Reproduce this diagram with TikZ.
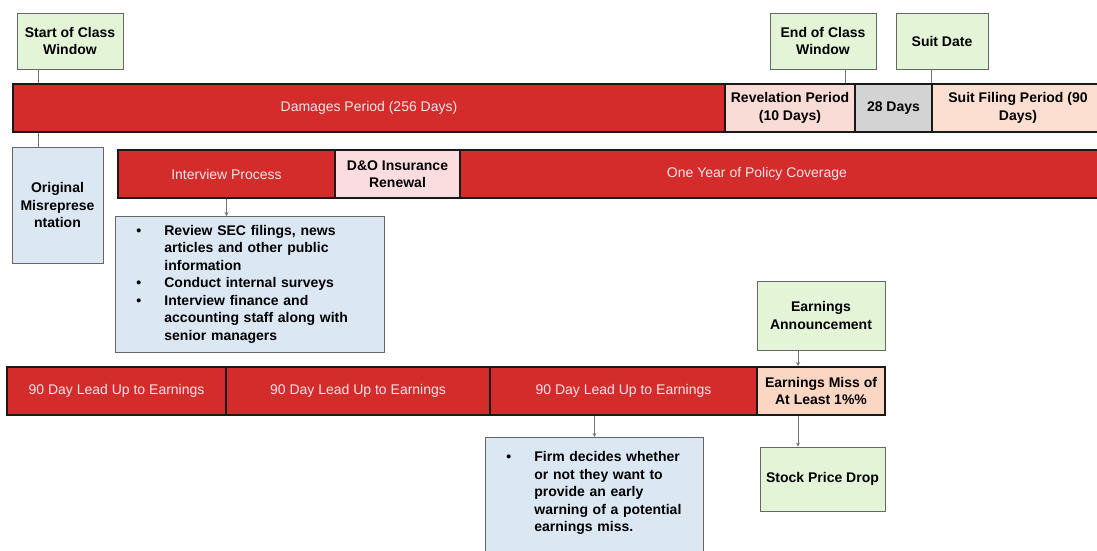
\documentclass[tikz,border=0pt]{standalone}
\usepackage{fontspec}
\setmainfont{Liberation Sans}
\usetikzlibrary{arrows.meta}
\definecolor{barred}{HTML}{D42B2B}
\definecolor{bartext}{HTML}{FFE4EA}
\definecolor{revpink}{HTML}{FADCD6}
\definecolor{dandopink}{HTML}{FBDDDF}
\definecolor{suitpeach}{HTML}{FCDFD0}
\definecolor{misspeach}{HTML}{FBD6C2}
\definecolor{daysgray}{HTML}{D3D3D3}
\definecolor{markgreen}{HTML}{E4F4D6}
\definecolor{noteblue}{HTML}{DCE7F4}
\begin{document}
\begin{tikzpicture}[x=1pt,y=-1pt]
\tikzset{
  seg/.style={draw=black!90,line width=2pt,minimum height=48pt,inner sep=0pt,align=center,
    font=\fontsize{14}{17.5}\selectfont\bfseries},
  redseg/.style={seg,fill=barred,text=bartext,font=\fontsize{14}{17.5}\selectfont},
  markbox/.style={draw=black!60,line width=0.8pt,fill=markgreen,inner sep=0pt,align=center,
    font=\fontsize{14}{17.5}\selectfont\bfseries},
  notebox/.style={markbox,fill=noteblue},
  link/.style={draw=black!55,line width=0.7pt},
  linkarrow/.style={link,-{Stealth[length=4pt,width=4pt]}},
}
\def\notebul{\makebox[31pt][l]{\hspace*{3pt}\textbullet}}
\def\noteindent{\hspace*{31pt}}
\useasboundingbox (0,0) rectangle (1097,550);
\clip (0,0) rectangle (1097,550);
% damages row
\node [redseg,minimum width=712pt] (dmg) at (369,108) {Damages Period (256 Days)};
\node [seg,fill=revpink,minimum width=130pt] (rev) at (790,108) {Revelation Period\\(10 Days)};
\node [seg,fill=daysgray,minimum width=77pt] (gap) at (893.5,108) {28 Days};
\node [seg,fill=suitpeach,minimum width=172pt] (filing) at (1018,108) {Suit Filing Period (90\\Days)};
% policy row
\node [redseg,minimum width=217pt] (ivw) at (226.5,174) {Interview Process};
\node [seg,fill=dandopink,minimum width=125pt] (dando) at (397.5,174) {D\&O Insurance\\Renewal};
\node [redseg,minimum width=644pt] (policy) at (782,174) {One Year of Policy Coverage\hspace*{50pt}};
% earnings row
\node [redseg,minimum width=219pt] (lead1) at (116.5,391) {90 Day Lead Up to Earnings};
\node [redseg,minimum width=264pt] (lead2) at (358,391) {90 Day Lead Up to Earnings};
\node [redseg,minimum width=267pt] (lead3) at (623.5,391) {90 Day Lead Up to Earnings};
\node [seg,fill=misspeach,minimum width=128pt] (miss) at (821,391) {Earnings Miss of\\At Least 1\%\%};
\node [markbox,minimum width=106pt,minimum height=56pt] (start) at (70,41) {Start of Class\\Window};
\node [markbox,minimum width=106pt,minimum height=56pt] (endw) at (823,41) {End of Class\\Window};
\node [markbox,minimum width=92pt,minimum height=56pt] (suit) at (942,41) {Suit Date};
\node [notebox,minimum width=91pt,minimum height=116pt] (orig) at (57.5,205) {Original\\Misreprese\\ntation};
\node [markbox,minimum width=128pt,minimum height=69pt] (earn) at (821,315.5) {Earnings\\Announcement};
\node [markbox,minimum width=125pt,minimum height=64pt] (stock) at (822.5,479) {Stock Price Drop};
\node [notebox,align=left,anchor=north west,inner xsep=18pt,text width=233pt,minimum height=136pt] (review) at (115,216) {
  \notebul Review SEC filings, news\\
  \noteindent articles and other public\\
  \noteindent information\\
  \notebul Conduct internal surveys\\
  \notebul Interview finance and\\
  \noteindent accounting staff along with\\
  \noteindent senior managers};
\node [notebox,align=left,anchor=north west,inner xsep=18pt,inner ysep=14pt,text width=182pt] (warn) at (485,437) {
  \notebul Firm decides whether\\
  \noteindent or not they want to\\
  \noteindent provide an early\\
  \noteindent warning of a potential\\
  \noteindent earnings miss.\rule[-40pt]{0pt}{1pt}};
\coordinate (startx) at (38,0);
\coordinate (endx) at (845,0);
\coordinate (earnx) at (798,0);
\draw [link] (start.south -| startx) -- (dmg.north -| startx);
\draw [link] (dmg.south -| startx) -- (orig.north -| startx);
\draw [link] (endw.south -| endx) -- (rev.north -| endx);
\draw [link] (suit.south -| filing.north west) -- (filing.north west);
\draw [linkarrow] (ivw.south) -- (ivw.south |- review.north);
\draw [linkarrow] (earn.south -| earnx) -- (miss.north -| earnx);
\draw [linkarrow] (miss.south -| earnx) -- (stock.north -| earnx);
\draw [linkarrow] (lead3.south -| warn.north) -- (warn.north);
\end{tikzpicture}
\end{document}
